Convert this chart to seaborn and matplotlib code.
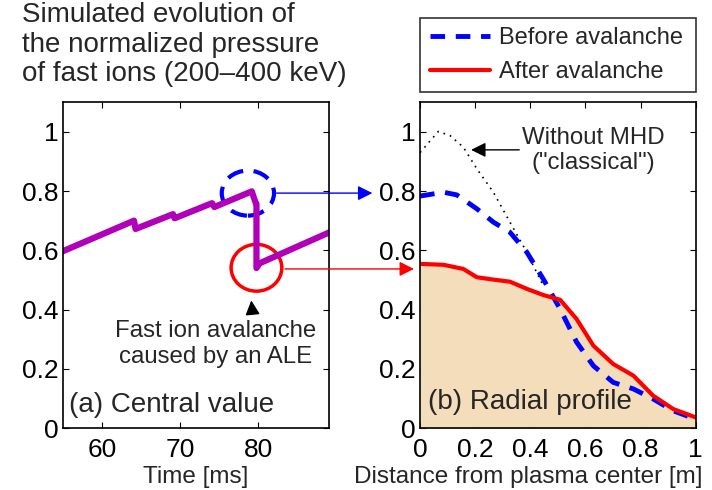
import numpy as np
import pandas as pd
import matplotlib
matplotlib.use('Agg')
import matplotlib.pyplot as plt
from matplotlib.patches import Ellipse
import seaborn as sns

# central value of the fast ion pressure vs time
time_ms = [55.0, 64.1, 64.3, 69.1, 69.3, 74.1, 74.4, 79.2, 79.5, 79.7, 79.8, 79.8, 80.2, 89.1]
p_central = [0.597, 0.700, 0.672, 0.722, 0.708, 0.759, 0.746, 0.799, 0.775, 0.760, 0.757, 0.540, 0.556, 0.660]

# radial profiles
r_after = [0.0, 0.085, 0.157, 0.206, 0.266, 0.326, 0.387, 0.447, 0.508, 0.568, 0.629, 0.701, 0.774, 0.846, 0.919, 1.0]
p_after = [0.554, 0.551, 0.537, 0.509, 0.501, 0.494, 0.470, 0.449, 0.433, 0.368, 0.278, 0.216, 0.177, 0.109, 0.064, 0.036]

r_before = [0.0, 0.085, 0.133, 0.206, 0.266, 0.326, 0.387, 0.447, 0.508, 0.568, 0.629, 0.701, 0.774, 0.846, 0.919, 1.0]
p_before = [0.783, 0.796, 0.787, 0.740, 0.695, 0.661, 0.594, 0.503, 0.402, 0.290, 0.210, 0.154, 0.132, 0.098, 0.058, 0.030]

r_classical = [0.0, 0.066, 0.109, 0.157, 0.206, 0.266, 0.326, 0.387, 0.447]
p_classical = [0.930, 1.001, 0.987, 0.948, 0.875, 0.796, 0.695, 0.594, 0.480]

tick_labels = ['0', '0.2', '0.4', '0.6', '0.8', '1']

sns.set_style('white')
plt.rcParams['font.family'] = ['Liberation Sans', 'DejaVu Sans']

fig = plt.figure(figsize=(7.12, 4.9), dpi=100)
ax1 = fig.add_axes([0.0885, 0.1265, 0.3736, 0.665])
ax2 = fig.add_axes([0.590, 0.1265, 0.387, 0.665])

purple = '#b000b8'
tan = '#f3ddba'

# left panel
df_t = pd.DataFrame({'t': time_ms, 'p': p_central})
sns.lineplot(data=df_t, x='t', y='p', sort=False, estimator=None, color=purple, lw=4.5, ax=ax1)
ax1.add_patch(Ellipse((78.7, 0.793), 6.7, 0.152, fill=False, ec='blue', lw=3, ls=(0, (4, 2.5))))
ax1.add_patch(Ellipse((79.8, 0.541), 6.5, 0.158, fill=False, ec='red', lw=2.5))
ax1.set_xlim(55, 89.1)
ax1.set_ylim(0, 1.1)
ax1.set_xticks([60, 70, 80])
ax1.set_xlabel('Time [ms]', fontsize=17.5, labelpad=0)
ax1.set_ylabel('')
ax1.text(55.8, 0.078, '(a) Central value', fontsize=20, va='center', ha='left')
ax1.text(74.5, 0.284, 'Fast ion avalanche\ncaused by an ALE', fontsize=17.3, ha='center', va='center', linespacing=1.2)
ax1.annotate('', xy=(79.1, 0.44), xytext=(79.3, 0.385),
             arrowprops=dict(arrowstyle='-|>', color='black', lw=1, mutation_scale=22))

# right panel
df_a = pd.DataFrame({'r': r_after, 'p': p_after})
df_b = pd.DataFrame({'r': r_before, 'p': p_before})
df_c = pd.DataFrame({'r': r_classical, 'p': p_classical})
ax2.fill_between(r_after, p_after, 0, color=tan, lw=0)
sns.lineplot(data=df_c, x='r', y='p', color='black', lw=1.2, ls=(0, (1, 3)), ax=ax2)
sns.lineplot(data=df_b, x='r', y='p', color='blue', lw=3.5, ls=(0, (3, 2.2)), ax=ax2, label='Before avalanche')
sns.lineplot(data=df_a, x='r', y='p', color='red', lw=3, ax=ax2, label='After avalanche')
ax2.set_xlim(0, 1)
ax2.set_ylim(0, 1.1)
ax2.set_xticks([0, 0.2, 0.4, 0.6, 0.8, 1])
ax2.set_xticklabels(tick_labels)
ax2.set_xlabel('Distance from plasma center [m]', fontsize=17.5, labelpad=0)
ax2.set_ylabel('')
ax2.text(0.03, 0.088, '(b) Radial profile', fontsize=20, va='center', ha='left')
ax2.text(0.628, 0.937, 'Without MHD\n("classical")', fontsize=17.3, ha='center', va='center', linespacing=1.2)
ax2.annotate('', xy=(0.175, 0.939), xytext=(0.37, 0.939),
             arrowprops=dict(arrowstyle='-|>', color='black', lw=1, mutation_scale=22))

for ax in (ax1, ax2):
    ax.set_yticks([0, 0.2, 0.4, 0.6, 0.8, 1])
    ax.set_yticklabels(tick_labels)
    ax.tick_params(direction='in', length=4, width=0.8, labelsize=19, top=True, right=True,
                   left=True, bottom=True, colors='black', pad=3)
    ax.tick_params(axis='x', pad=7)
    for s in ax.spines.values():
        s.set_color('black')
        s.set_linewidth(1.2)

ax1.xaxis.set_label_coords(0.5, -0.118)
ax2.xaxis.set_label_coords(0.392, -0.118)

# arrows linking the circles to the profile values
ax1.annotate('', xy=(-0.163, 0.793), xycoords=ax2.transData, xytext=(82.0, 0.793), textcoords=ax1.transData,
             arrowprops=dict(arrowstyle='-|>', color='blue', lw=1, mutation_scale=22), annotation_clip=False)
ax1.annotate('', xy=(-0.012, 0.537), xycoords=ax2.transData, xytext=(83.1, 0.537), textcoords=ax1.transData,
             arrowprops=dict(arrowstyle='-|>', color='red', lw=1, mutation_scale=22), annotation_clip=False)

# legend above the right panel
ax2.get_legend().remove()
h, l = ax2.get_legend_handles_labels()
leg = fig.legend(h, l, loc='center', bbox_to_anchor=(0.590, 0.8014, 0.387, 0.1727), mode='expand',
                 borderaxespad=0, fontsize=17, handlelength=2.55, handletextpad=0.4, frameon=True,
                 fancybox=False, labelspacing=0.5, borderpad=0.4)
leg.get_frame().set_edgecolor('black')
leg.get_frame().set_linewidth(1.2)

fig.text(0.031, 0.995, 'Simulated evolution of\nthe normalized pressure\nof fast ions (200\u2013400 keV)',
         fontsize=20, va='top', ha='left', linespacing=1.17)

fig.savefig('out.png', dpi=100)
